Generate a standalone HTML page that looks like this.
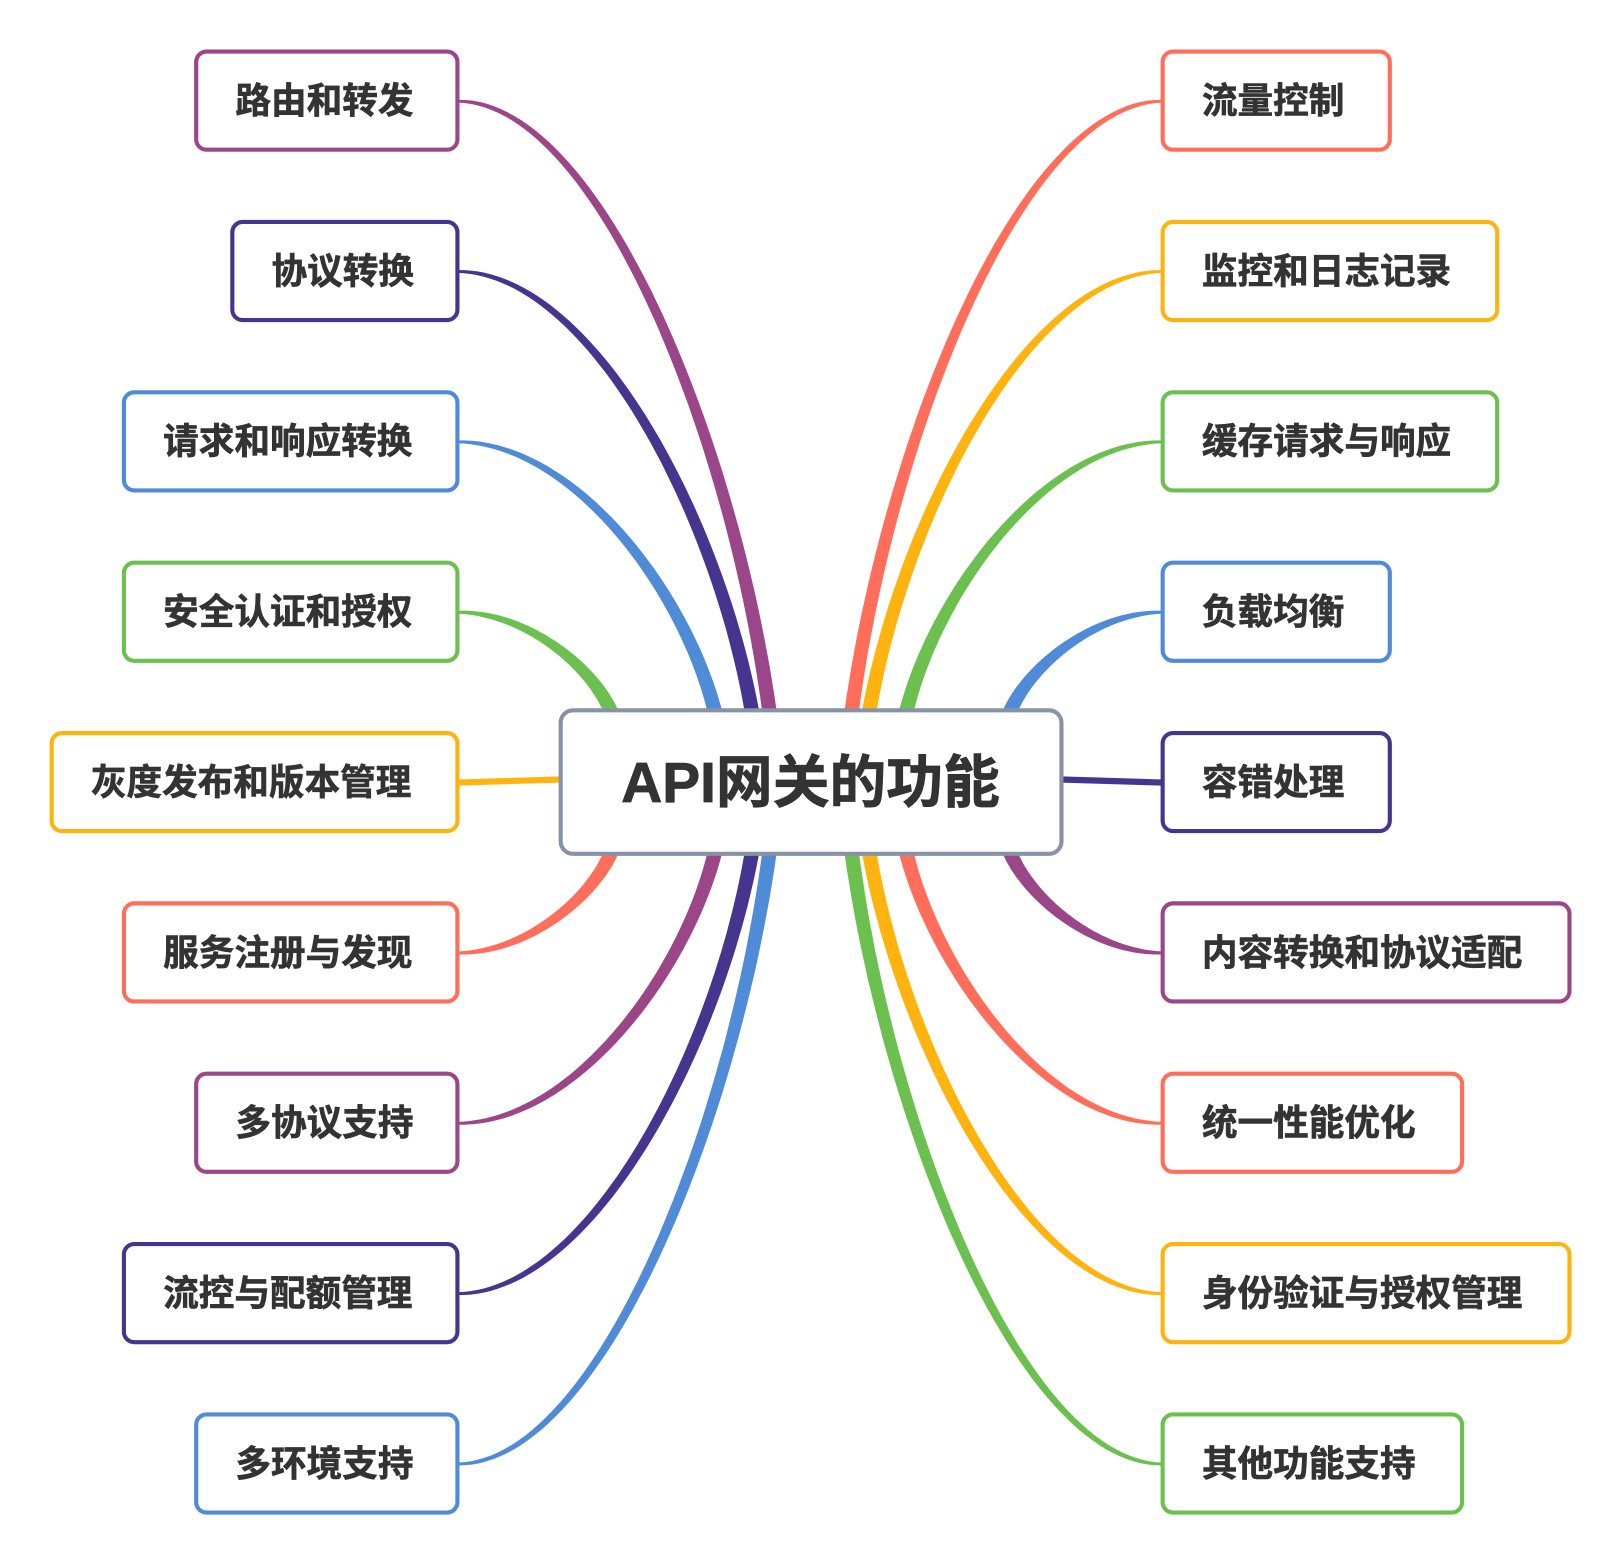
<!DOCTYPE html>
<html><head><meta charset="utf-8"><style>
html,body{margin:0;padding:0;background:#fff;width:1618px;height:1560px;overflow:hidden}
svg text{font-family:"Liberation Sans","Noto Sans CJK SC",sans-serif;font-weight:bold;fill:#333}
</style></head><body>
<svg id="s" width="1618" height="1560" viewBox="0 0 1567 1511" preserveAspectRatio="none" xmlns="http://www.w3.org/2000/svg">
<g id="links"></g>
<g id="nodes"></g>
</svg>
<script>
var P='#9b4688',D='#45358f',B='#508bd8',G='#6cc04f',Y='#ffb30f',R='#ff6e5a';
var L=[['路由和转发',190,50,P,[745,688]],['协议转换',225,215,D,[728,688]],['请求和响应转换',120,380,B,[692,688]],
['安全认证和授权',120,545,G,[592,690]],['灰度发布和版本管理',50,710,Y,[543,755]],['服务注册与发现',120,875,R,[592,825]],
['多协议支持',190,1040,P,[692,827]],['流控与配额管理',120,1205,D,[728,827]],['多环境支持',190,1370,B,[745,827]]];
var Rr=[['流量控制',1346,50,R,[825,688]],['监控和日志记录',1450,215,Y,[842,688]],['缓存请求与响应',1450,380,G,[878,688]],
['负载均衡',1346,545,B,[978,690]],['容错处理',1346,710,D,[1028,755]],['内容转换和协议适配',1520,875,P,[978,825]],
['统一性能优化',1416,1040,R,[878,827]],['身份验证与授权管理',1520,1205,Y,[842,827]],['其他功能支持',1416,1370,G,[825,827]]];
var ns='http://www.w3.org/2000/svg',links=document.getElementById('links'),nodes=document.getElementById('nodes');
function el(t,a,p){var e=document.createElementNS(ns,t);for(var k in a)e.setAttribute(k,a[k]);p.appendChild(e);return e}
function bez(p0,p1,p2,p3,t){var u=1-t;return [u*u*u*p0[0]+3*u*u*t*p1[0]+3*u*t*t*p2[0]+t*t*t*p3[0],u*u*u*p0[1]+3*u*u*t*p1[1]+3*u*t*t*p2[1]+t*t*t*p3[1]]}
function link(s,e,c){
  var dx=e[0]-s[0],dy=e[1]-s[1],p1,p2;
  if(Math.abs(dy)<5){el('path',{d:'M'+s[0]+','+s[1]+' L'+e[0]+','+e[1],stroke:c,'stroke-width':6,fill:'none'},links);return}
  p1=[s[0]+dx*0.45,s[1]];p2=[e[0]-dx*0.12,e[1]-dy*0.45];
  var N=60,a=[],b=[];
  for(var i=0;i<=N;i++){var t=i/N,p=bez(s,p1,p2,e,t),q=bez(s,p1,p2,e,Math.min(1,t+0.001)),r=bez(s,p1,p2,e,Math.max(0,t-0.001));
    var tx=q[0]-r[0],ty=q[1]-r[1],l=Math.hypot(tx,ty)||1,w=(1.3+Math.pow(t,0.8)*5.7);
    a.push([p[0]-ty/l*w,p[1]+tx/l*w]);b.push([p[0]+ty/l*w,p[1]-tx/l*w]);}
  var d='M'+a.map(function(p){return p[0].toFixed(1)+','+p[1].toFixed(1)}).join(' L')+' L'+b.reverse().map(function(p){return p[0].toFixed(1)+','+p[1].toFixed(1)}).join(' L')+'Z';
  el('path',{d:d,fill:c},links);
}
function box(x,y,w,h,c,txt){
  el('rect',{x:x,y:y,width:w,height:h,rx:10,fill:'#fff',stroke:c,'stroke-width':4},nodes);
  var t=el('text',{x:x+38,y:y+h/2+12,'font-size':34.5,stroke:'#333','stroke-width':0.6},nodes);t.textContent=txt;
}
L.forEach(function(n){link([443,n[2]+48],n[4],n[3]);box(n[1],n[2],443-n[1],95,n[3],n[0]);});
Rr.forEach(function(n){link([1126,n[2]+48],n[4],n[3]);box(1126,n[2],n[1]-1126,95,n[3],n[0]);});
el('rect',{x:543,y:688,width:485,height:139,rx:12,fill:'#fff',stroke:'#8792a4','stroke-width':4},nodes);
var t=el('text',{x:785,y:777,'font-size':55,'text-anchor':'middle',stroke:'#333','stroke-width':0.8},nodes);t.textContent='API网关的功能';
</script>
</body></html>
